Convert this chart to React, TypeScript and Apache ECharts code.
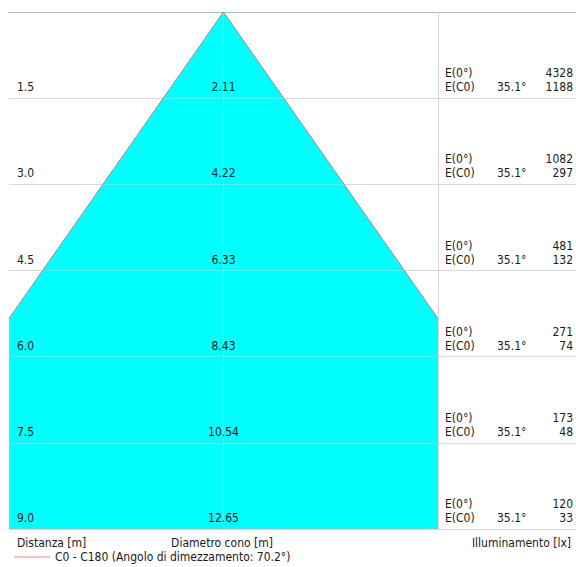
import React, { useEffect, useRef } from "react";
import * as echarts from "echarts";

const distances = [1.5, 3.0, 4.5, 6.0, 7.5, 9.0];
const diameters = [2.11, 4.22, 6.33, 8.43, 10.54, 12.65];
const eCenter = [4328, 1082, 481, 271, 173, 120];
const eC0 = [1188, 297, 132, 74, 48, 33];
const halfAngleLabel = "35.1°";
const legendName = "C0 - C180 (Angolo di dimezzamento: 70.2°)";
const xExtent = 3.75;
const distMax = 9.0;

const FONT = "'DejaVu Sans Condensed', 'DejaVu Sans', sans-serif";
const FS = 12;
const TXT = "#1a1a1a";

export default function App() {
  const ref = useRef<HTMLDivElement>(null);
  useEffect(() => {
    if (!ref.current) return;
    const chart = echarts.init(ref.current, undefined, { renderer: "svg" });
    const lastD = distances[distances.length - 1];
    const lastHalf = diameters[diameters.length - 1] / 2;
    const dEdge = (xExtent / lastHalf) * lastD;

    const textStyle = (extra: any) => ({
      fontFamily: FONT,
      fontSize: FS,
      fill: TXT,
      verticalAlign: "middle",
      ...extra,
    });

    const gridLine = { show: true, lineStyle: { color: "rgba(200,200,200,0.7)", width: 1 } };

    const option: any = {
      animation: false,
      grid: [
        { left: 9, top: 12, width: 429, height: 517 },
        { left: 438, top: 12, right: 0, height: 517 },
      ],
      xAxis: [
        {
          gridIndex: 0, type: "value", min: -xExtent, max: xExtent,
          axisLine: { show: true, lineStyle: { color: "#8a8a8a", width: 1 } },
          axisTick: { show: false }, axisLabel: { show: false }, splitLine: { show: false },
        },
        {
          gridIndex: 1, type: "value", min: 0, max: 1,
          axisLine: { show: true, lineStyle: { color: "#8a8a8a", width: 1 } },
          axisTick: { show: false }, axisLabel: { show: false }, splitLine: { show: false },
        },
      ],
      yAxis: [
        {
          gridIndex: 0, type: "value", inverse: true, min: 0, max: distMax, interval: 1.5, z: 5,
          axisLine: { show: true, lineStyle: { color: "#c8c8c8", width: 1 } },
          axisTick: { show: false }, axisLabel: { show: false },
          splitLine: gridLine,
        },
        {
          gridIndex: 1, type: "value", inverse: true, min: 0, max: distMax, interval: 1.5, z: 5,
          axisLine: { show: true, lineStyle: { color: "#d4d4d4", width: 1 } },
          axisTick: { show: false }, axisLabel: { show: false },
          splitLine: gridLine,
        },
      ],
      legend: {
        left: 12, top: 549, icon: "rect", itemWidth: 36, itemHeight: 1, itemGap: 5, padding: 2,
        data: [legendName],
        textStyle: { fontFamily: FONT, fontSize: FS, color: TXT },
      },
      graphic: [
        { type: "text", x: 17, y: 543, style: { text: "Distanza [m]", font: `${FS}px ${FONT}`, fill: TXT, align: "left", verticalAlign: "middle" } },
        { type: "text", x: 222, y: 543, style: { text: "Diametro cono [m]", font: `${FS}px ${FONT}`, fill: TXT, align: "center", verticalAlign: "middle" } },
        { type: "text", x: 571, y: 543, style: { text: "Illuminamento [lx]", font: `${FS}px ${FONT}`, fill: TXT, align: "right", verticalAlign: "middle" } },
      ],
      series: [
        {
          type: "custom", xAxisIndex: 0, yAxisIndex: 0, z: 1, silent: true,
          data: [[0]],
          renderItem: (params: any, api: any) => {
            const pts = [
              [0, 0], [xExtent, dEdge], [xExtent, distMax], [-xExtent, distMax], [-xExtent, dEdge],
            ].map((p) => api.coord(p));
            return { type: "polygon", shape: { points: pts }, style: { fill: "#00ffff", stroke: "none" } };
          },
        },
        {
          type: "custom", name: legendName, xAxisIndex: 0, yAxisIndex: 0, z: 6, silent: true,
          itemStyle: { color: "#f08080" },
          data: [[0]],
          renderItem: (params: any, api: any) => {
            const pts = [[-xExtent, dEdge], [0, 0], [xExtent, dEdge]].map((p) => api.coord(p));
            return { type: "polyline", shape: { points: pts }, style: { stroke: "#e87070", lineWidth: 1, fill: "none" } };
          },
        },
        {
          type: "custom", xAxisIndex: 0, yAxisIndex: 0, z: 10, silent: true,
          data: distances.map((d, i) => [d, diameters[i]]),
          renderItem: (params: any, api: any) => {
            const d = api.value(0);
            const dia = api.value(1);
            const cs = params.coordSys;
            const p = api.coord([0, d]);
            const y = p[1] - 11;
            return {
              type: "group",
              children: [
                { type: "text", x: cs.x + 8, y, style: textStyle({ text: d.toFixed(1), align: "left" }) },
                { type: "text", x: p[0], y, style: textStyle({ text: dia.toFixed(2), align: "center" }) },
              ],
            };
          },
        },
        {
          type: "custom", xAxisIndex: 1, yAxisIndex: 1, z: 10, silent: true,
          data: distances.map((d, i) => [d, eCenter[i], eC0[i]]),
          renderItem: (params: any, api: any) => {
            const d = api.value(0);
            const cs = params.coordSys;
            const y = api.coord([0, d])[1];
            const right = cs.x + cs.width - 3;
            return {
              type: "group",
              children: [
                { type: "text", x: cs.x + 7, y: y - 25, style: textStyle({ text: "E(0°)", align: "left" }) },
                { type: "text", x: cs.x + 7, y: y - 11, style: textStyle({ text: "E(C0)", align: "left" }) },
                { type: "text", x: cs.x + 59, y: y - 11, style: textStyle({ text: halfAngleLabel, align: "left" }) },
                { type: "text", x: right, y: y - 25, style: textStyle({ text: String(api.value(1)), align: "right" }) },
                { type: "text", x: right, y: y - 11, style: textStyle({ text: String(api.value(2)), align: "right" }) },
              ],
            };
          },
        },
      ],
    };
    chart.setOption(option);
    return () => chart.dispose();
  }, []);
  return (
    <div
      ref={ref}
      style={{ position: "fixed", left: 0, top: 0, width: 576, height: 567, background: "#fff" }}
    />
  );
}
